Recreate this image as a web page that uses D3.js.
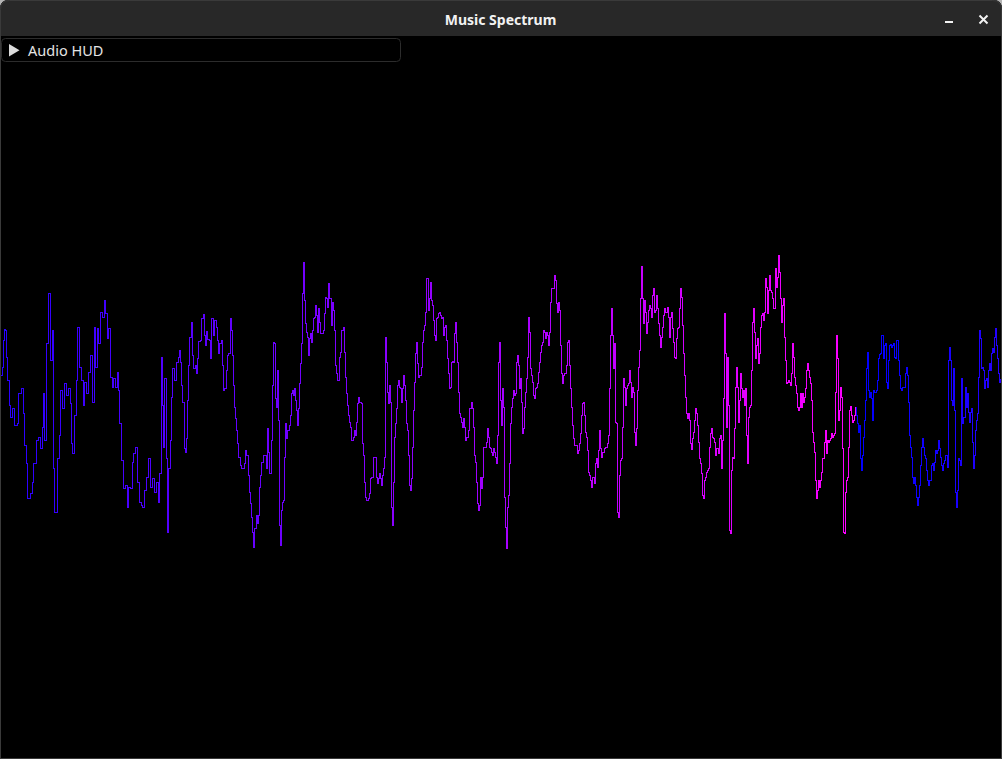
<!DOCTYPE html>
<html><head><meta charset="utf-8">
<script src="https://cdn.jsdelivr.net/npm/d3@7"></script>
<style>html,body{margin:0;padding:0;background:#b4b4b4;overflow:hidden}svg{display:block}</style>
</head><body>
<script>
const windowTitle = "Music Spectrum";
const hudLabel = "Audio HUD";
const sampleDomain = [0, 1000];
const levelDomain = [-150, 150];
// [sample index, signal level]
const waveSamples = [
[0,30],[2,38],[3,65],[4,76],[5,75],[6,48],[7,25],[9,0],[10,-12],[12,-3],[14,-20],[17,-18],[18,12],[21,17],[23,-8],[24,-40],[26,-58],[27,-93],[30,-88],[32,-77],[33,-58],[36,-35],[38,-32],[40,-43],[42,-22],[43,12],[44,-35],[46,62],[48,112],[50,45],[52,75],[53,-63],[54,-107],[57,-53],[59,-30],[60,15],[62,-3],[64,22],[66,10],[68,17],[70,2],[71,-38],[72,-48],[74,-10],[76,25],[77,78],[79,38],[81,25],[83,0],[84,23],[86,12],[88,33],[90,50],[92,3],[94,78],[95,38],[97,77],[98,62],[100,93],[102,88],[104,105],[105,92],[107,67],[108,77],[110,28],[112,18],[113,27],[115,18],[117,33],[118,15],[119,-18],[121,-55],[123,-83],[125,-80],[127,-102],[128,-82],[130,-83],[132,-57],[133,-48],[135,-42],[137,-77],[139,-97],[141,-100],[142,-102],[144,-85],[146,-72],[148,-53],[150,-82],[152,-73],[154,-87],[156,-77],[158,-97],[159,-68],[161,48],[162,0],[163,-42],[164,27],
[165,27],[166,-53],[167,-127],[168,-63],[170,-35],[171,8],[172,37],[174,25],[176,43],[178,48],[179,55],[180,43],[181,20],[182,3],[184,-43],[185,-47],[186,-33],[187,5],[188,40],[189,68],[191,83],[192,50],[193,37],[195,40],[196,32],[197,47],[198,64],[200,65],[201,87],[203,91],[204,70],[205,60],[206,74],[207,66],[209,65],[210,47],[211,87],[213,70],[214,85],[216,78],[217,65],[218,52],[219,62],[221,65],[222,40],[223,15],[224,17],[226,35],[227,50],[228,52],[230,87],[231,75],[232,50],[233,20],[234,-2],[235,-13],[236,-25],[237,-38],[238,-52],[240,-60],[241,-63],[242,-63],[244,-58],[245,-45],[246,-50],[247,-50],[248,-70],[249,-87],[250,-98],[251,-112],[252,-127],[253,-142],[254,-123],[256,-110],[257,-118],[258,-110],[259,-82],[260,-70],[261,-57],[263,-50],[264,-50],[266,-63],[267,-23],[268,-47],[269,-68],[271,-35],[272,20],[273,63],[274,62],[275,7],[276,-2],[277,35],[278,-15],[279,-120],[280,-140],[281,-105],[282,-97],[283,-95],[284,-52],[285,-18],[286,-33],[287,-25],[289,-20],[290,-10],[291,12],[292,15],[293,10],[294,17],[295,5],[296,-5],[297,-20],[298,-3],[299,22],[300,42],[301,62],[302,112],[303,143],[304,105],[305,82],[306,73],[307,68],[308,50],[309,67],[310,72],[311,63],[312,75],[313,87],[314,88],[315,100],[316,90],[317,73],[318,97],[319,83],[320,72],[322,72],[323,75],[324,92],[325,108],[326,107],[327,98],[328,122],[329,107],[331,80],[332,103],[333,95],[334,75],
[335,40],[336,32],[337,25],[338,25],[339,48],[340,53],[341,75],[343,78],[344,53],[345,28],[346,12],[347,0],[348,-10],[349,-17],[350,-22],[351,-35],[353,-32],[354,-25],[355,-30],[356,-17],[357,2],[358,8],[359,3],[361,2],[362,-38],[363,-50],[364,-77],[365,-92],[366,-95],[368,-93],[369,-88],[370,-73],[371,-72],[372,-72],[373,-52],[375,-52],[376,-72],[377,-78],[378,-73],[379,-68],[380,-73],[381,-80],[382,-70],[383,-63],[384,-52],[385,68],[386,43],[387,13],[388,2],[389,20],[390,3],[391,-102],[392,-120],[393,-77],[394,-32],[395,-18],[396,-3],[397,20],[398,25],[399,18],[400,17],[401,3],[402,17],[403,30],[404,20],[405,5],[406,-18],[407,-25],[408,-50],[409,-80],[410,-85],[411,-73],[412,-42],[413,-5],[414,23],[415,52],[416,63],[417,42],[418,28],[419,30],[421,38],[422,63],[423,75],[424,80],[425,93],[426,127],[427,127],[428,95],[429,107],[430,123],[431,105],[432,100],[433,85],[434,70],[435,65],[436,87],[437,88],[438,92],[439,93],[440,90],[441,87],[442,88],[443,70],[444,78],[445,80],[446,65],[447,47],[448,32],[449,17],[450,18],[451,43],[452,44],[453,43],[454,72],[455,83],[456,63],[457,43],[458,13],[459,-8],[460,-12],[461,-17],[462,-22],[463,-13],[464,-22],[465,-35],[466,-32],[467,-32],[468,-25],[469,-3],[470,-3],[471,3],[472,-3],[473,-22],[474,-50],[475,-57],[476,-77],[477,-98],[478,-105],[479,-100],[480,-72],[481,-83],[482,-72],[483,-42],[484,-42],[486,-37],[487,-23],[488,-32],[489,-42],[490,-43],[491,-47],[492,-50],[493,-43],[494,-47],[495,-52],[496,-58],[497,-30],[498,43],[499,63],[500,5],
[501,-20],[502,17],[503,-2],[504,-92],[505,-122],[506,-143],[507,-102],[508,-90],[509,-58],[510,-18],[511,-2],[512,7],[513,15],[514,10],[515,12],[516,43],[517,50],[518,40],[519,17],[520,27],[521,3],[522,-28],[523,-23],[524,-2],[525,13],[526,27],[527,48],[528,88],[529,73],[530,37],[531,30],[532,23],[533,10],[534,7],[535,17],[536,18],[537,22],[538,33],[539,43],[540,53],[541,60],[542,63],[543,75],[544,73],[545,67],[546,73],[547,70],[548,60],[549,73],[550,103],[551,117],[552,117],[553,117],[554,130],[555,125],[556,102],[557,93],[558,103],[559,95],[560,60],[561,32],[562,22],[563,30],[564,32],[565,32],[566,40],[567,63],[568,65],[569,40],[570,17],[571,-2],[572,-20],[573,-33],[574,-40],[575,-40],[576,-40],[577,-48],[578,-45],[579,-38],[580,-28],[581,-10],[582,2],[583,3],[584,-10],[585,-27],[586,-32],[587,-45],[588,-67],[589,-70],[590,-75],[591,-82],[592,-72],[593,-72],[594,-78],[595,-58],[596,-53],[597,-62],[598,-45],[599,-25],[600,-43],[601,-52],[602,-47],[603,-47],[604,-43],[605,-42],[606,-42],[607,-38],[608,-30],[609,17],[610,70],[611,97],[612,70],[613,37],[614,62],[615,-17],[616,-18],[617,-107],[618,-112],[619,-70],[620,-55],[621,-53],[622,-22],[623,27],[624,18],[625,0],[626,17],[627,20],[628,22],[629,35],[630,23],[631,8],[632,18],[633,13],[634,-27],[635,-40],[636,-23],[637,15],[638,38],[639,55],[640,107],[641,139],[642,107],[643,82],[644,105],[645,93],[646,72],[647,83],[648,95],[649,100],[650,97],[651,88],[652,110],[653,117],[654,93],[655,95],[656,110],[657,97],[658,82],[659,70],
[660,58],[661,68],[662,78],[663,90],[664,97],[665,93],[666,93],[667,98],[668,88],[669,68],[670,88],[671,93],[672,77],[673,63],[674,48],[675,47],[676,67],[677,77],[678,78],[679,97],[680,117],[681,108],[682,80],[683,52],[684,30],[685,8],[686,-8],[687,-13],[688,-8],[689,-15],[690,-38],[691,-44],[692,-33],[693,-27],[694,-15],[695,-3],[696,-8],[697,-20],[698,-37],[699,-53],[700,-58],[701,-68],[702,-90],[703,-93],[704,-75],[705,-72],[706,-67],[707,-65],[708,-63],[709,-42],[710,-28],[711,-23],[712,-32],[713,-33],[714,-37],[715,-50],[716,-43],[717,-43],[718,-48],[719,-33],[720,-30],[721,-63],[722,-35],[723,7],[724,92],[725,52],[726,-22],[727,48],[728,0],[729,-125],[730,-128],[731,-65],[732,-52],[733,-53],[734,-23],[735,18],[736,38],[737,18],[738,-17],[739,5],[740,32],[741,17],[742,8],[743,15],[744,0],[745,17],[746,-30],[747,-58],[748,-12],[749,-2],[750,0],[751,35],[752,83],[753,97],[754,73],[755,47],[756,60],[757,67],[758,42],[759,52],[760,78],[761,90],[762,92],[763,85],[764,93],[765,127],[766,118],[767,92],[768,115],[769,130],[770,115],[771,113],[772,107],[773,97],[774,97],[775,137],[776,118],[777,128],[778,150],[779,133],[780,107],[781,83],[782,100],[783,107],[784,68],[785,45],[786,22],[787,23],[788,25],[789,23],[790,20],[791,32],[792,62],[793,48],[794,28],[795,20],[796,12],[797,-2],[798,-5],[799,-2],[800,12],[801,-2],[802,12],[803,3],[804,8],[805,17],[806,35],[807,42],[808,35],[809,28],[810,22],[811,5],[812,-27],[813,-37],[814,-47],[815,-75],[816,-93],[817,-85],[818,-75],[819,-82],[820,-75],[821,-67],[822,-53],[823,-53],[824,-37],[825,-25],[826,-48],[827,-35],[828,-37],[829,-35],
[830,-33],[831,-28],[832,-32],[833,-30],[834,-28],[835,13],[836,70],[837,47],[838,-15],[839,-5],[840,18],[841,8],[842,-43],[843,-127],[844,-128],[845,-87],[846,-75],[847,-72],[848,-42],[849,-5],[850,-1],[851,-10],[852,-17],[853,-15],[854,-10],[855,-2],[856,-10],[857,-18],[858,-27],[859,-20],[860,-53],[861,-65],[862,-50],[863,-32],[864,-15],[865,5],[866,37],[867,53],[868,15],[869,8],[870,13],[871,7],[872,-15],[873,15],[874,13],[875,13],[876,15],[877,25],[878,47],[879,51],[880,52],[881,70],[882,70],[883,47],[884,60],[885,62],[886,23],[887,17],[888,45],[889,60],[890,61],[891,58],[892,60],[893,62],[894,48],[895,47],[896,65],[897,65],[898,45],[899,30],[900,17],[901,15],[902,18],[903,18],[904,18],[905,32],[906,38],[907,30],[908,3],[909,-30],[910,-42],[911,-52],[912,-72],[913,-78],[914,-72],[915,-80],[916,-92],[917,-100],[918,-92],[919,-80],[920,-60],[921,-42],[922,-33],[923,-42],[924,-50],[925,-53],[926,-65],[927,-75],[928,-80],[929,-75],[930,-75],[931,-60],[932,-58],[933,-65],[934,-57],[935,-45],[936,-48],[937,-45],[938,-35],[939,-43],[940,-52],[941,-60],[942,-65],[943,-58],[944,-55],[945,-50],[946,-50],[947,-62],[948,45],[949,58],[950,45],[951,5],[952,0],[953,37],[954,-5],[955,-87],[956,-102],[957,-85],[958,-53],[959,-55],[960,-60],[961,27],[962,-18],[963,-12],[965,18],[966,-2],[967,12],[968,-7],[969,-17],[970,-7],[971,-3],[972,-37],[973,-63],[974,-50],[975,-25],[976,-15],[977,-8],[978,28],[979,75],[980,67],[981,37],[982,38],[983,35],[984,17],[985,25],[986,27],[987,18],[988,35],[989,42],[990,35],[991,52],[992,57],[993,53],[994,68],[995,77],[996,60],[997,47],[998,32],[999,23],[1000,27]
];
// colour of the trace along the sample axis (wraps from magenta back to blue)
const traceColorStops = [
  {at: 0, color: "rgb(40,0,255)"},
  {at: 856, color: "rgb(254,0,255)"},
  {at: 856, color: "rgb(0,0,255)"},
  {at: 1000, color: "rgb(36,0,255)"}
];

const W = 1002, H = 759;
const svg = d3.select("body").append("svg").attr("width", W).attr("height", H)
  .style("font-family", "'Noto Sans', 'Open Sans', sans-serif");

function topRounded(x, y, w, h, r) {
  return `M${x},${y + h}V${y + r}Q${x},${y} ${x + r},${y}H${x + w - r}Q${x + w},${y} ${x + w},${y + r}V${y + h}Z`;
}
// window body
svg.append("path").attr("d", topRounded(0, 0, W, H, 9)).attr("fill", "#000");
// title bar
svg.append("path").attr("d", topRounded(0, 0, W, 36, 9)).attr("fill", "#282828");
// window border
svg.append("path").attr("d", topRounded(0.5, 0.5, W - 1, H - 1, 9) )
  .attr("fill", "none").attr("stroke", "#3a3a3a").attr("stroke-width", 1);
svg.append("line").attr("x1", 0).attr("x2", W).attr("y1", H - 0.5).attr("y2", H - 0.5).attr("stroke", "#3a3a3a");

svg.append("text").attr("x", 500.5).attr("y", 24.5).attr("text-anchor", "middle")
  .attr("fill", "#f2f2f2").attr("font-size", 14).attr("font-weight", "bold").text(windowTitle);
// minimize
svg.append("rect").attr("x", 945).attr("y", 21).attr("width", 8).attr("height", 2).attr("fill", "#f2f2f2");
// close
svg.append("path").attr("d", "M979.5,15.5L987.5,23.5M987.5,15.5L979.5,23.5")
  .attr("stroke", "#f2f2f2").attr("stroke-width", 2).attr("fill", "none");

// HUD collapsed header
svg.append("rect").attr("x", 1.5).attr("y", 38.5).attr("width", 399).attr("height", 23).attr("rx", 4)
  .attr("fill", "#000").attr("stroke", "#2c2c2c");
svg.append("path").attr("d", "M9,44L19.5,50.2L9,56.5Z").attr("fill", "#dcdcdc");
svg.append("text").attr("x", 28).attr("y", 56).attr("fill", "#e4e4e4").attr("font-size", 14.5).text(hudLabel);

// trace
const x = d3.scaleLinear().domain(sampleDomain).range([0.5, 1000.5]);
const y = d3.scaleLinear().domain(levelDomain).range([555.5, 255.5]);

const defs = svg.append("defs");
const grad = defs.append("linearGradient").attr("id", "traceGrad")
  .attr("gradientUnits", "userSpaceOnUse").attr("x1", x(sampleDomain[0])).attr("x2", x(sampleDomain[1])).attr("y1", 0).attr("y2", 0);
grad.selectAll("stop").data(traceColorStops).join("stop")
  .attr("offset", d => (x(d.at) - x(sampleDomain[0])) / (x(sampleDomain[1]) - x(sampleDomain[0])))
  .attr("stop-color", d => d.color);

const line = d3.line().x(d => x(d[0])).y(d => y(d[1])).curve(d3.curveStepAfter);
svg.append("path").datum(waveSamples).attr("d", line)
  .attr("fill", "none").attr("stroke", "url(#traceGrad)").attr("stroke-width", 1)
  .attr("shape-rendering", "crispEdges");
</script>
</body></html>
